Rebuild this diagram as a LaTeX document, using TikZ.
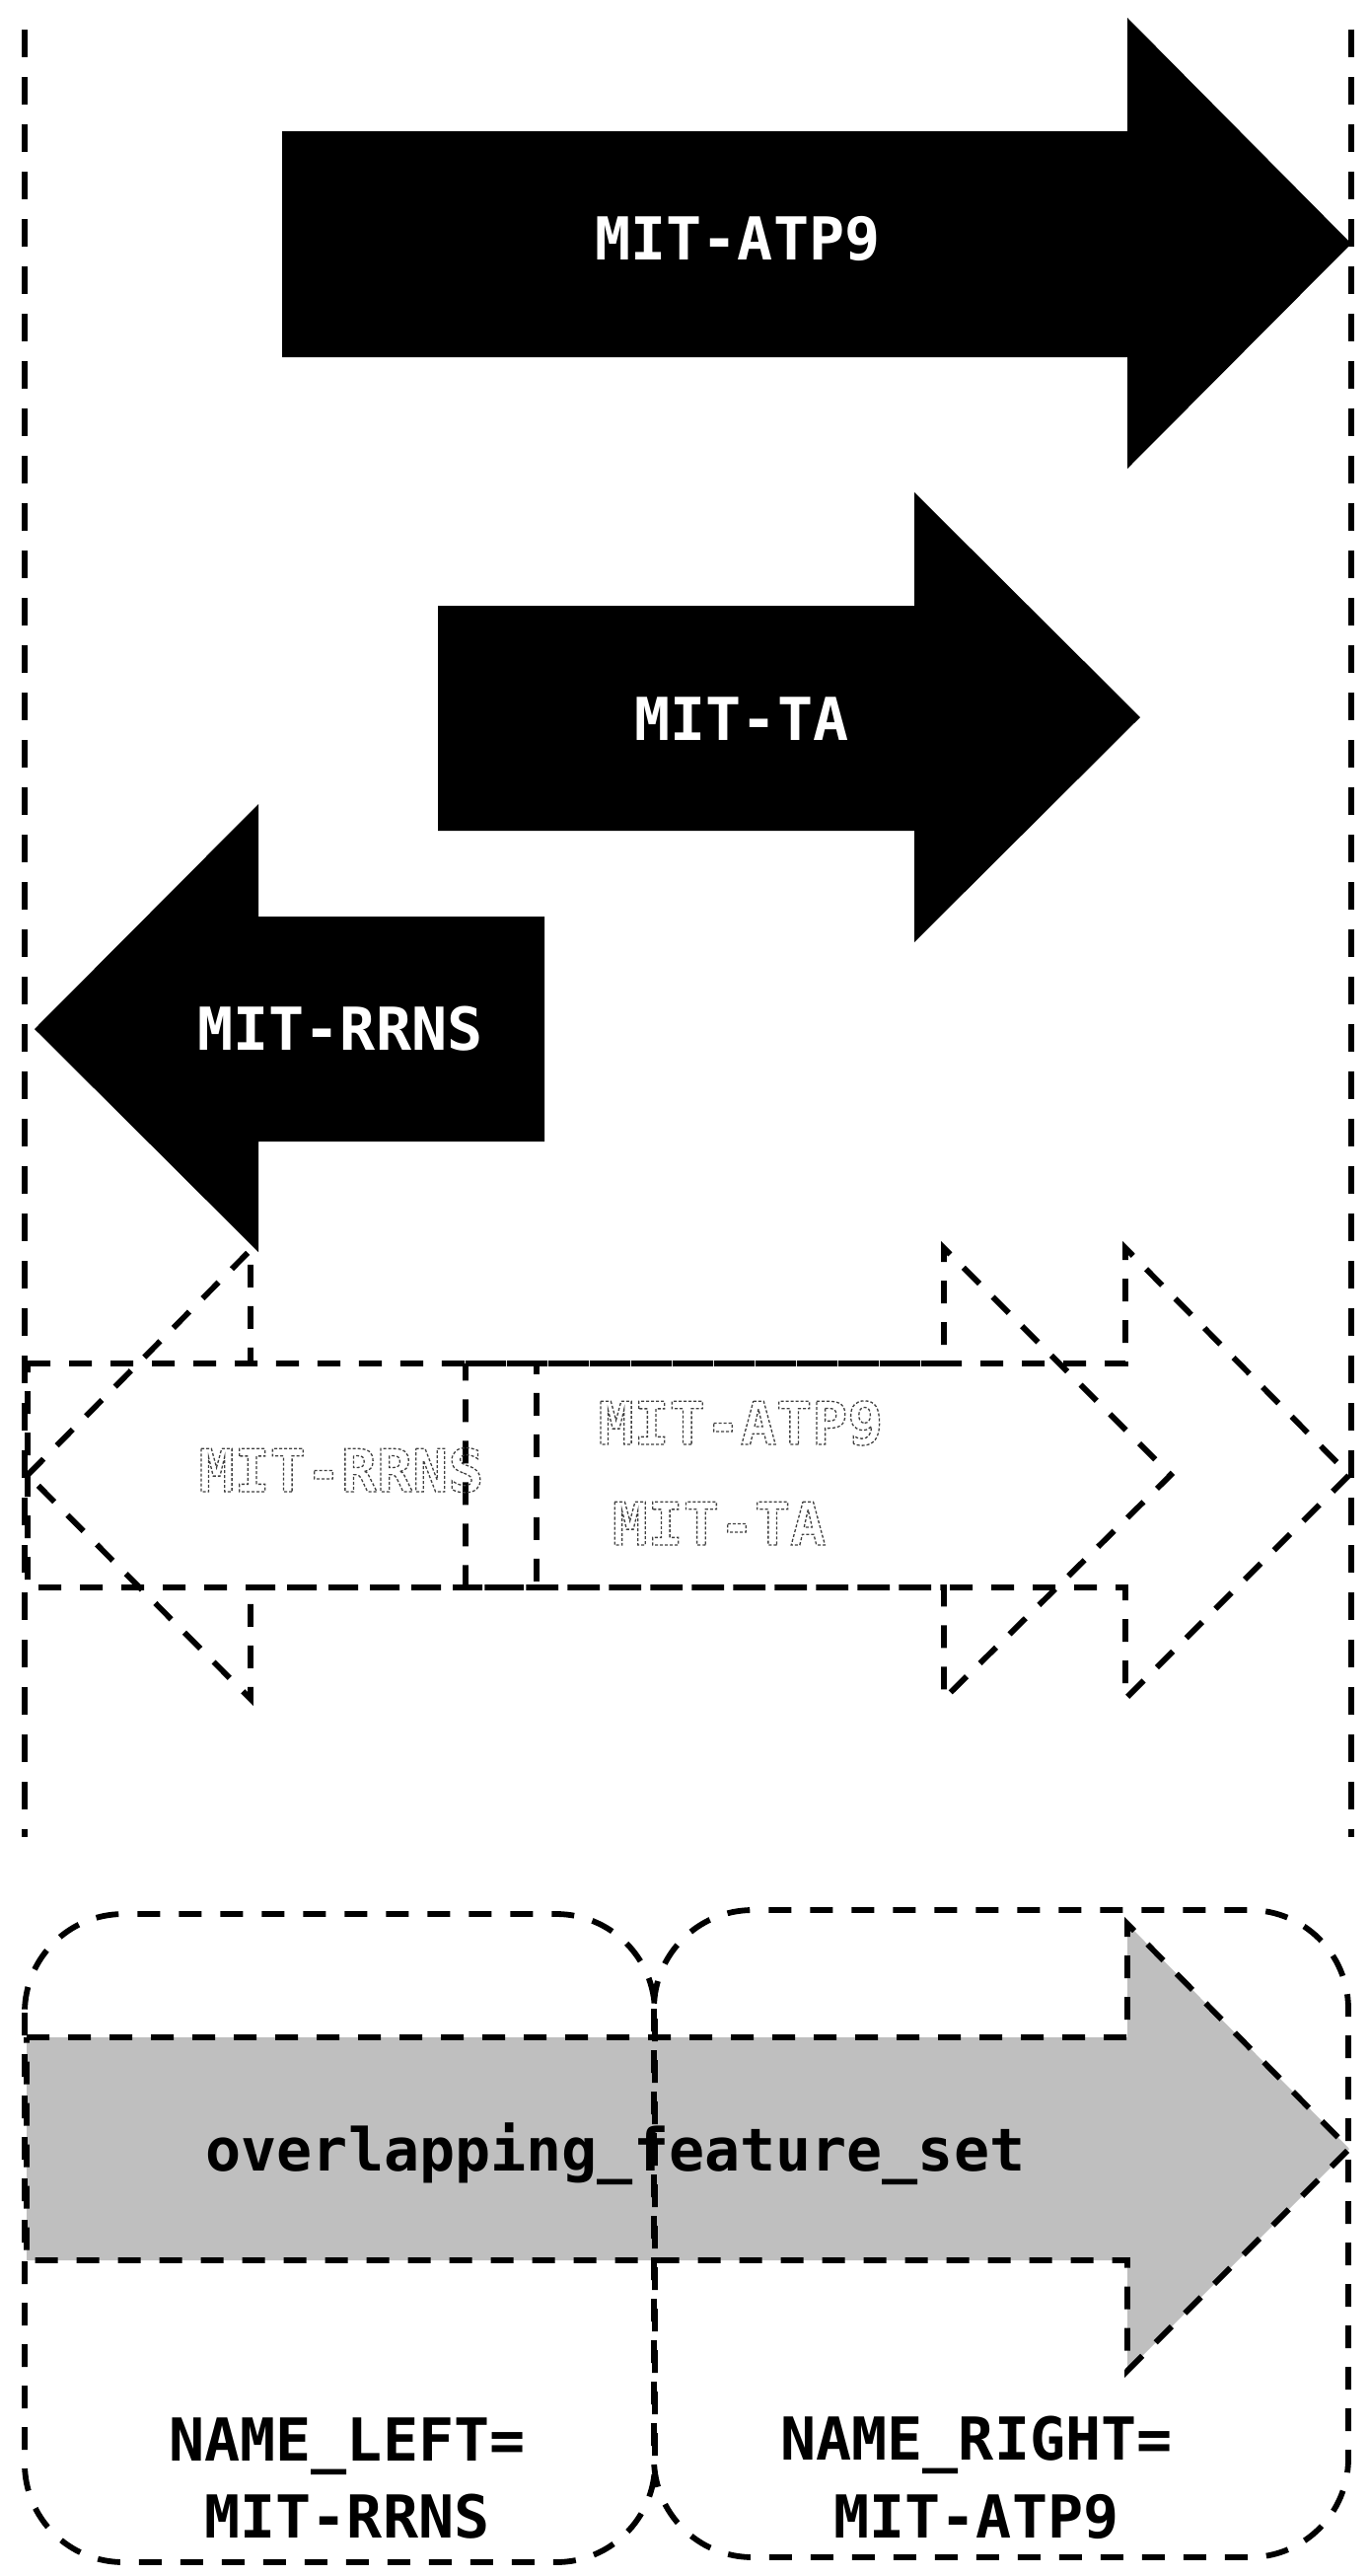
\documentclass[tikz,border=0pt]{standalone}
\usepackage{fontspec}
\setmonofont{DejaVu Sans Mono}
\definecolor{featgray}{RGB}{191,191,191}
\newcommand{\ghosttext}[1]{\special{pdf:literal direct 1 Tr 1.3 w [3 2] 0 d 0.25 G}#1\special{pdf:literal direct 0 Tr 0 G [] 0 d}}
\begin{document}
\begin{tikzpicture}[x=1pt,y=-1pt,
  lbl/.style={font=\fontsize{60}{78}\selectfont\ttfamily\bfseries, inner sep=0pt, anchor=base},
  wlbl/.style={lbl, text=white},
  dsh/.style={line width=5.8pt, dash pattern=on 23pt off 19pt},
  vline/.style={line width=6.5pt, dash pattern=on 28pt off 20pt},
  blackarrow/.style={fill=black}]
\useasboundingbox (0,0) rectangle (1389,2611);

% outer dashed verticals
\coordinate (lt) at (25,30);
\coordinate (lb) at (25,1862);
\coordinate (rt) at (1370,30);
\coordinate (rb) at (1370,1862);
\draw[vline] (lt) -- (lb);
\draw[vline] (rt) -- (rb);

% black arrows
\path[blackarrow] (286,133) -- (1143,133) -- (1143,18) -- (1370,247) -- (1143,475) -- (1143,362) -- (286,362) -- cycle;
\path[blackarrow] (444,614) -- (927,614) -- (927,499) -- (1156,727) -- (927,955) -- (927,842) -- (444,842) -- cycle;
\path[blackarrow] (35,1043) -- (262,815) -- (262,929) -- (552,929) -- (552,1157) -- (262,1157) -- (262,1269) -- cycle;
\node[wlbl] (atp9) at (748,263) {MIT-ATP9};
\node[wlbl] (ta) at (752,750) {MIT-TA};
\node[wlbl] (rrns) at (345,1064) {MIT-RRNS};

% middle dashed arrows
\draw[dsh] (28,1382) -- (1141,1382) -- (1141,1265) -- (1368,1495) -- (1141,1722) -- (1141,1609) -- (28,1609) -- cycle;
\draw[dsh] (28,1495) -- (254,1267) -- (254,1382) -- (544,1382) -- (544,1609) -- (254,1609) -- (254,1722) -- cycle;
\draw[dsh] (472,1382) -- (957,1382) -- (957,1265) -- (1187,1495) -- (957,1722) -- (957,1609) -- (472,1609) -- cycle;

% bottom
\filldraw[fill=featgray, dsh] (27,2065) -- (1143,2065) -- (1143,1950) -- (1368,2178) -- (1143,2403) -- (1143,2291) -- (27,2291) -- cycle;
\draw[dsh, rounded corners=100pt] (25,1940) rectangle (664,2597);
\draw[dsh, rounded corners=100pt] (663,1936) rectangle (1367,2592);
\node[lbl] (ofs) at (624,2200) {overlapping\_feature\_set};
\node[lbl] (nl1) at (352,2494) {NAME\_LEFT=};
\node[lbl] (nl2) at (352,2572) {MIT-RRNS};
\node[lbl] (nr1) at (990,2493) {NAME\_RIGHT=};
\node[lbl] (nr2) at (990,2572) {MIT-ATP9};

% ghost (outlined) labels
\node[lbl] (grrns) at (346,1512) {\ghosttext{MIT-RRNS}};
\node[lbl] (gatp9) at (751,1464) {\ghosttext{MIT-ATP9}};
\node[lbl] (gta) at (729,1566) {\ghosttext{MIT-TA}};
\end{tikzpicture}
\end{document}
